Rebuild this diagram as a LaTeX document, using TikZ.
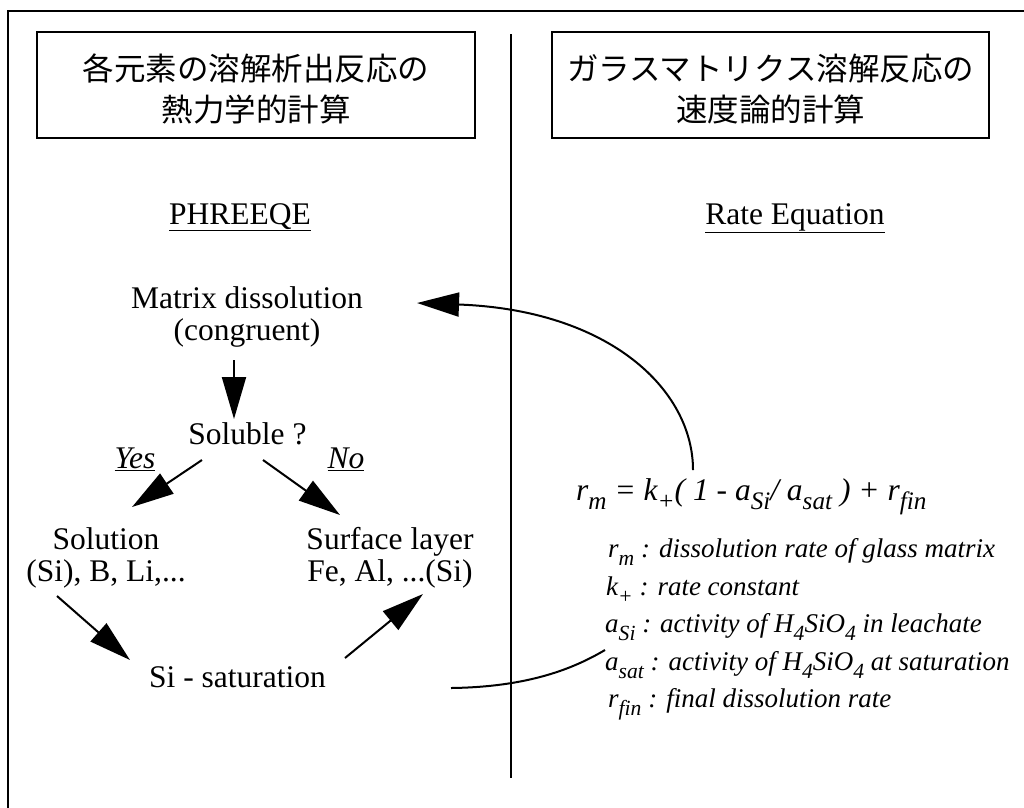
\documentclass[tikz,border=0pt]{standalone}
\usepackage{fontspec}
\setmainfont{Liberation Serif}
\newfontfamily\cjk{Noto Sans CJK JP}
\usetikzlibrary{arrows.meta,calc}
% lowered, slightly reduced subscript in the current font
\newcommand\lo[1]{\raisebox{-0.3em}{\scalebox{0.8}{#1}}}

\begin{document}
\begin{tikzpicture}[x=1pt,y=-1pt,
  every node/.style={inner sep=0pt, font=\fontsize{31.5}{32}\selectfont},
  conn/.style={line width=2pt},
  arr/.style={conn,-{Triangle[length=42pt,width=24pt]}},
  titlebox/.style={draw, line width=2pt, minimum width=438pt, minimum height=106pt},
  titletext/.style={align=center, font=\cjk\fontsize{31.5}{41}\selectfont},
  label/.style={align=center},
  choice/.style={font=\itshape\fontsize{31.5}{32}\selectfont},
  legend/.style={anchor=base west, font=\itshape\fontsize{27}{30}\selectfont}
]
\useasboundingbox (0,0) rectangle (1024,807);

% outer frame and column divider
\draw[line width=2.5pt] (8,830) -- (8,11) -- (1040,11);
\draw[line width=2pt] (511,34) -- (511,778);

% column headings
\node[titlebox] (lbox) at (256,85) {};
\node[titletext] (ltext) at ($(lbox.center)+(0,4)$) {各元素の溶解析出反応の\\熱力学的計算};
\node[titlebox, minimum width=437pt] (rbox) at (770.5,85) {};
\node[titletext] (rtext) at ($(rbox.center)+(0,4)$) {ガラスマトリクス溶解反応の\\速度論的計算};

\node[anchor=base] (phr) at (240,224) {\underline{PHREEQE}};
\node[anchor=base] (rate) at (795,224) {\underline{Rate Equation}};

% PHREEQE flow
\node[label] (md) at (247,317) {Matrix dissolution\\(congruent)};
\node[anchor=base] (sol) at (247.5,444) {Soluble ?};
\node[choice, anchor=base] (yes) at (135,468) {\underline{Yes}};
\node[choice, anchor=base] (no) at (346,468) {\underline{No}};
\node[label] (soln) at (106,558) {Solution\\(Si), B, Li,...};
\node[label] (surf) at (390,558) {Surface layer\\Fe, Al, ...(Si)};
\node[anchor=base] (sat) at (237.5,687) {Si - saturation};

\draw[arr] ($(md.center)+(-13,43)$) -- ($(sol.base)+(-13.5,-25)$);
\draw[arr] ($(sol.base)+(-45.5,16)$) -- ($(soln.center)+(26,-51)$);
\draw[arr] ($(sol.base)+(15.5,16)$) -- ($(surf.center)+(-50,-43)$);
\draw[arr] ($(soln.center)+(-49,38)$) -- ($(sat.base)+(-107.5,-27)$);
\draw[arr] ($(sat.base)+(107.5,-29)$) -- ($(surf.center)+(33,36)$);

% rate equation and its terms
\node[anchor=base west] (eq) at (576,500) {\itshape r\lo{m} = k\lo{+}( 1 - a\lo{Si}/ a\lo{sat} ) + r\lo{fin}};
\node[legend] (l1) at (608,557) {r\lo{m} : dissolution rate of glass matrix};
\node[legend] (l2) at (606,595) {k\lo{+} : rate constant};
\node[legend] (l3) at (605,632) {a\lo{Si} : activity of H\lo{4}SiO\lo{4} in leachate};
\node[legend] (l4) at (605,670) {a\lo{sat} : activity of H\lo{4}SiO\lo{4} at saturation};
\node[legend] (l5) at (608,707) {r\lo{fin} : final dissolution rate};

% links between the two columns
\draw[arr] ($(eq.base west)+(117,-30)$) .. controls ($(eq.base west)+(117,-110)$) and ($(eq.base west)+(34,-190)$) .. ($(md.center)+(170,-14)$);
\draw[conn] ($(sat.base)+(213.5,1)$) .. controls ($(sat.base)+(292,0)$) and ($(sat.base)+(337,-19)$) .. ($(l3.base west)+(0,18)$);
\end{tikzpicture}
\end{document}
